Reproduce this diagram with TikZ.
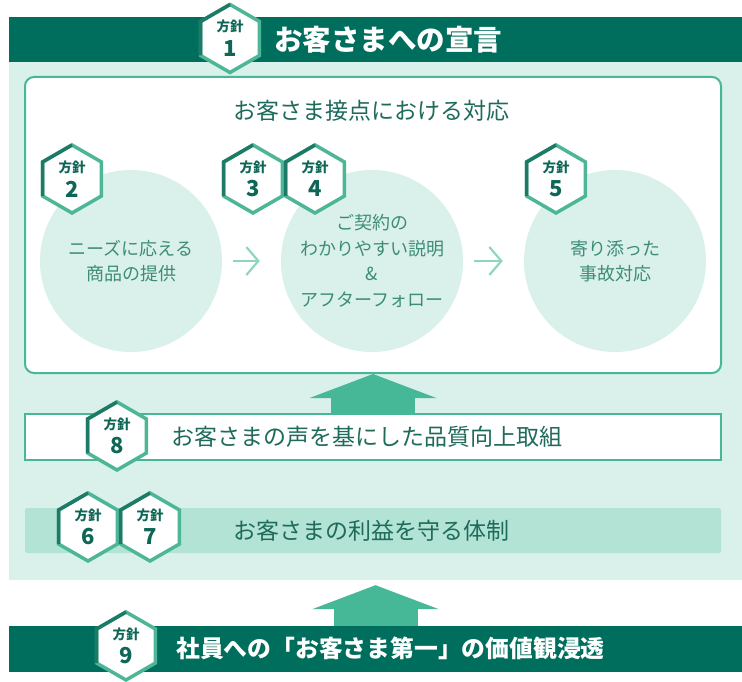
\documentclass[tikz,border=0pt]{standalone}
\usepackage{fontspec}
\setmainfont{Noto Sans CJK JP}
\usetikzlibrary{arrows.meta}

\definecolor{barcol}{HTML}{006E5C}
\definecolor{bgcol}{HTML}{D9F1EA}
\definecolor{tealcol}{HTML}{46B897}
\definecolor{mintcol}{HTML}{B3E3D5}
\definecolor{headcol}{HTML}{1E6B5C}
\definecolor{circtext}{HTML}{3E8C78}
\definecolor{stepcol}{HTML}{8FD6C0}
\definecolor{hexdark}{HTML}{1D7A66}
\definecolor{hexlight}{HTML}{4DB696}
\definecolor{hextext}{HTML}{0E6656}

\tikzset{
  bar/.style={fill=barcol, minimum width=733pt, minimum height=45pt, inner sep=0pt},
  bartitle/.style={anchor=west, text=white, font=\bfseries, inner sep=0pt},
  heading/.style={text=headcol, inner sep=0pt, font=\fontsize{23}{28}\selectfont},
  bubble/.style={circle, fill=bgcol, minimum size=182pt, inner sep=0pt, align=center,
    text=circtext, font=\fontsize{18}{25.5}\selectfont},
  steparrow/.style={draw=stepcol, line width=2.2pt, -{Straight Barb[length=12pt,width=28pt]},
    shorten <=11pt, shorten >=21pt},
  bigarrow/.style={draw=tealcol, line width=84pt, -{Triangle[length=24pt,width=126pt]}},
  hexline/.style={line width=3.5pt, line join=miter},
  badgetop/.style={text=hextext, inner sep=0pt, font=\bfseries\fontsize{13.5}{14}\selectfont},
  badgenum/.style={text=hextext, inner sep=0pt, font=\bfseries\fontsize{22}{22}\selectfont}
}

\newcommand{\hexbadge}[3]{%
  \filldraw[fill=white, draw=hexlight, hexline] (#2) +(90:34) -- +(30:34) -- +(-30:34)
    -- +(-90:34) -- +(-150:34) -- +(150:34) -- cycle;
  \draw[hexdark, hexline] (#2) +(-90:34) -- +(-150:34) -- +(150:34);
  \node[badgetop, yshift=12pt] (#1-a) at (#2) {方針};
  \node[badgenum, yshift=-10pt] (#1-b) at (#2) {#3};
}

\begin{document}
\begin{tikzpicture}[x=1pt, y=-1pt]
\useasboundingbox (0,0) rectangle (742,682);

\node[fill=bgcol, minimum width=733pt, minimum height=518pt, inner sep=0pt] (base) at (375.5,321) {};

\node[bar, minimum height=45pt] (declbar) at (375.5,39.5) {};
\node[bartitle, font=\bfseries\fontsize{28.5}{30}\selectfont] (decl) at (274,40) {お客さまへの宣言};
\hexbadge{h1}{230,38.5}{1}

\node[fill=white, draw=tealcol, line width=2pt, rounded corners=9pt, minimum width=696pt,
  minimum height=296pt] (contact) at (373,225) {};
\node[heading] (contacttitle) at (371,111) {お客さま接点における対応};

\node[bubble] (needs) at (131,261) {ニーズに応える\\商品の提供};
\node[bubble] (explain) at (372,261) {ご契約の\\わかりやすい説明\\\&\\アフターフォロー};
\node[bubble] (accident) at (615,261) {寄り添った\\事故対応};

\draw[steparrow] (needs) -- (explain);
\draw[steparrow] (explain) -- (accident);

\hexbadge{h2}{72,179}{2}
\hexbadge{h3}{253,179}{3}
\hexbadge{h4}{315,179}{4}
\hexbadge{h5}{556,179}{5}

\node[fill=white, draw=tealcol, line width=2pt, minimum width=696pt, minimum height=46pt]
  (quality) at (373,437) {};
\node[heading, anchor=west] (qualitytext) at (171,437) {お客さまの声を基にした品質向上取組};
\hexbadge{h8}{117,436}{8}

\draw[bigarrow] (quality.north) -- (contact.south);

\node[fill=mintcol, rounded corners=2pt, minimum width=696pt, minimum height=45pt]
  (benefit) at (373,530.5) {};
\node[heading, anchor=west] (benefittext) at (233,531) {お客さまの利益を守る体制};
\hexbadge{h6}{88,527}{6}
\hexbadge{h7}{150,527}{7}

\node[bar, minimum height=46pt] (staffbar) at (375.5,649) {};
\node[bartitle, font=\bfseries\fontsize{23.8}{26}\selectfont] (staff) at (176,648)
  {社員への「お客さま第一」の価値観浸透};
\hexbadge{h9}{126,646}{9}

\draw[bigarrow, shorten >=5pt] (staffbar.north) -- (base.south);

\end{tikzpicture}
\end{document}
